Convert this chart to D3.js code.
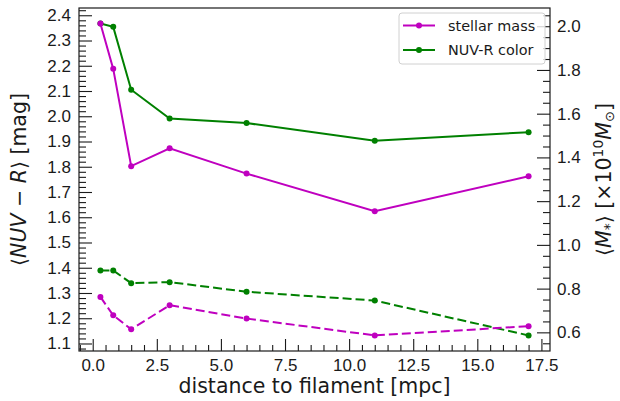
<!DOCTYPE html>
<html>
<head>
<meta charset="utf-8">
<script src="https://cdn.jsdelivr.net/npm/d3@7"></script>
<style>
  body { margin: 0; background: #fff; }
  svg { display: block; font-family: "DejaVu Sans", sans-serif; }
</style>
</head>
<body>
<svg id="chart" width="620" height="401"></svg>
<script>
// distance to filament [mpc]
const distance = [0.3, 0.8, 1.5, 3, 6, 11, 17];

// left axis: <NUV - R> [mag]
const colorSolid = [2.367, 2.354, 2.105, 1.991, 1.973, 1.903, 1.937];
const colorDashed = [1.389, 1.389, 1.339, 1.343, 1.305, 1.270, 1.132];

// right axis: <M*> [x10^10 Msun]
const massSolid = [2.012, 1.805, 1.360, 1.442, 1.326, 1.154, 1.314];
const massDashed = [0.762, 0.678, 0.614, 0.724, 0.663, 0.586, 0.628];

const xTicks = [0, 2.5, 5, 7.5, 10, 12.5, 15, 17.5];
const leftTicks = [1.1, 1.2, 1.3, 1.4, 1.5, 1.6, 1.7, 1.8, 1.9, 2.0, 2.1, 2.2, 2.3, 2.4];
const rightTicks = [0.6, 0.8, 1.0, 1.2, 1.4, 1.6, 1.8, 2.0];

const legendItems = [
  { label: "stellar mass", color: "#bf00bf" },
  { label: "NUV-R color", color: "#008000" },
];

const margin = { left: 79, right: 550, top: 8, bottom: 351 };
const ink = "#1a1a1a";

// matplotlib-style 5% padding around the data
function padded(values) {
  const [lo, hi] = d3.extent(values);
  const pad = (hi - lo) * 0.05;
  return [lo - pad, hi + pad];
}

const x = d3.scaleLinear().domain(padded(distance)).range([margin.left, margin.right]);
const yL = d3.scaleLinear().domain(padded(colorSolid.concat(colorDashed))).range([margin.bottom, margin.top]);
const yR = d3.scaleLinear().domain(padded(massSolid.concat(massDashed))).range([margin.bottom, margin.top]);

function minors(scale, step, majors) {
  const [a, b] = scale.domain();
  const out = [];
  for (let v = Math.ceil(a / step) * step; v <= b; v += step) {
    const r = Math.round(v * 1000) / 1000;
    if (!majors.some((m) => Math.abs(m - r) < 1e-6)) out.push(r);
  }
  return out;
}

const svg = d3.select("#chart");

svg.append("rect")
  .attr("x", margin.left).attr("y", margin.top)
  .attr("width", margin.right - margin.left).attr("height", margin.bottom - margin.top)
  .attr("fill", "#fff");

function styleAxis(g, size) {
  g.select(".domain").remove();
  g.selectAll("line").attr("stroke", ink).attr("stroke-width", 1.1);
  g.selectAll("text").attr("fill", ink).style("font-size", size + "px");
}

// x axis (bottom)
svg.append("g").attr("transform", `translate(0,${margin.bottom})`)
  .call(d3.axisBottom(x).tickValues(minors(x, 0.5, xTicks)).tickSize(-6).tickFormat(""))
  .call((g) => styleAxis(g, 17));
svg.append("g").attr("transform", `translate(0,${margin.bottom})`)
  .call(d3.axisBottom(x).tickValues(xTicks).tickSize(-12).tickPadding(8).tickFormat(d3.format(".1f")))
  .call((g) => styleAxis(g, 17));

// left axis
svg.append("g").attr("transform", `translate(${margin.left},0)`)
  .call(d3.axisLeft(yL).tickValues(minors(yL, 0.02, leftTicks)).tickSize(-7).tickFormat(""))
  .call((g) => styleAxis(g, 17));
svg.append("g").attr("transform", `translate(${margin.left},0)`)
  .call(d3.axisLeft(yL).tickValues(leftTicks).tickSize(-13).tickPadding(8).tickFormat(d3.format(".1f")))
  .call((g) => styleAxis(g, 17));

// right axis
svg.append("g").attr("transform", `translate(${margin.right},0)`)
  .call(d3.axisRight(yR).tickValues(minors(yR, 0.05, rightTicks)).tickSize(-7).tickFormat(""))
  .call((g) => styleAxis(g, 17));
svg.append("g").attr("transform", `translate(${margin.right},0)`)
  .call(d3.axisRight(yR).tickValues(rightTicks).tickSize(-13).tickPadding(7).tickFormat(d3.format(".1f")))
  .call((g) => styleAxis(g, 17));

// series
function series(values, y, color, dashed) {
  const pts = distance.map((d, i) => [d, values[i]]);
  const line = d3.line().x((d) => x(d[0])).y((d) => y(d[1]));
  svg.append("path").datum(pts)
    .attr("d", line)
    .attr("fill", "none")
    .attr("stroke", color)
    .attr("stroke-width", 2)
    .attr("stroke-dasharray", dashed ? "9,4" : null);
  svg.append("g").selectAll("circle").data(pts).join("circle")
    .attr("cx", (d) => x(d[0]))
    .attr("cy", (d) => y(d[1]))
    .attr("r", 3)
    .attr("fill", color);
}

series(colorSolid, yL, "#008000", false);
series(colorDashed, yL, "#008000", true);
series(massSolid, yR, "#bf00bf", false);
series(massDashed, yR, "#bf00bf", true);

// frame
svg.append("rect")
  .attr("x", margin.left).attr("y", margin.top)
  .attr("width", margin.right - margin.left).attr("height", margin.bottom - margin.top)
  .attr("fill", "none").attr("stroke", ink).attr("stroke-width", 1.2);

// legend
const lg = svg.append("g").attr("transform", "translate(399,13)");
lg.append("rect")
  .attr("width", 146).attr("height", 51).attr("rx", 3)
  .attr("fill", "#fff").attr("fill-opacity", 0.8)
  .attr("stroke", "#d0d0d0").attr("stroke-width", 1);
legendItems.forEach((d, i) => {
  const yy = 12.5 + i * 24.5;
  lg.append("line").attr("x1", 4).attr("x2", 36).attr("y1", yy).attr("y2", yy)
    .attr("stroke", d.color).attr("stroke-width", 2);
  lg.append("circle").attr("cx", 20).attr("cy", yy).attr("r", 3).attr("fill", d.color);
  lg.append("text").attr("x", 49).attr("y", yy).attr("dy", "0.35em")
    .attr("fill", ink).style("font-size", "14.4px").text(d.label);
});

// axis labels
svg.append("text")
  .attr("x", (margin.left + margin.right) / 2).attr("y", 393)
  .attr("text-anchor", "middle").attr("fill", ink).style("font-size", "20.5px")
  .text("distance to filament [mpc]");

const ll = svg.append("text")
  .attr("transform", `translate(26,${(margin.top + margin.bottom) / 2}) rotate(-90)`)
  .attr("text-anchor", "middle").attr("fill", ink).style("font-size", "20.5px");
ll.append("tspan").text("\u27e8");
ll.append("tspan").style("font-style", "italic").text("NUV");
ll.append("tspan").text(" \u2212 ");
ll.append("tspan").style("font-style", "italic").text("R");
ll.append("tspan").text("\u27e9 [mag]");

const rl = svg.append("text")
  .attr("transform", `translate(611,${(margin.top + margin.bottom) / 2}) rotate(-90)`)
  .attr("text-anchor", "middle").attr("fill", ink).style("font-size", "20.5px");
rl.append("tspan").text("\u27e8");
rl.append("tspan").style("font-style", "italic").text("M");
rl.append("tspan").attr("dy", 3).style("font-size", "14px").text("*");
rl.append("tspan").attr("dy", -3).text("\u27e9 [\u00d710");
rl.append("tspan").attr("dy", -8).style("font-size", "14px").text("10");
rl.append("tspan").attr("dy", 8).style("font-style", "italic").text("M");
rl.append("tspan").attr("dy", 3).style("font-size", "13px").text("\u2299");
rl.append("tspan").attr("dy", -3).text("]");
</script>
</body>
</html>
